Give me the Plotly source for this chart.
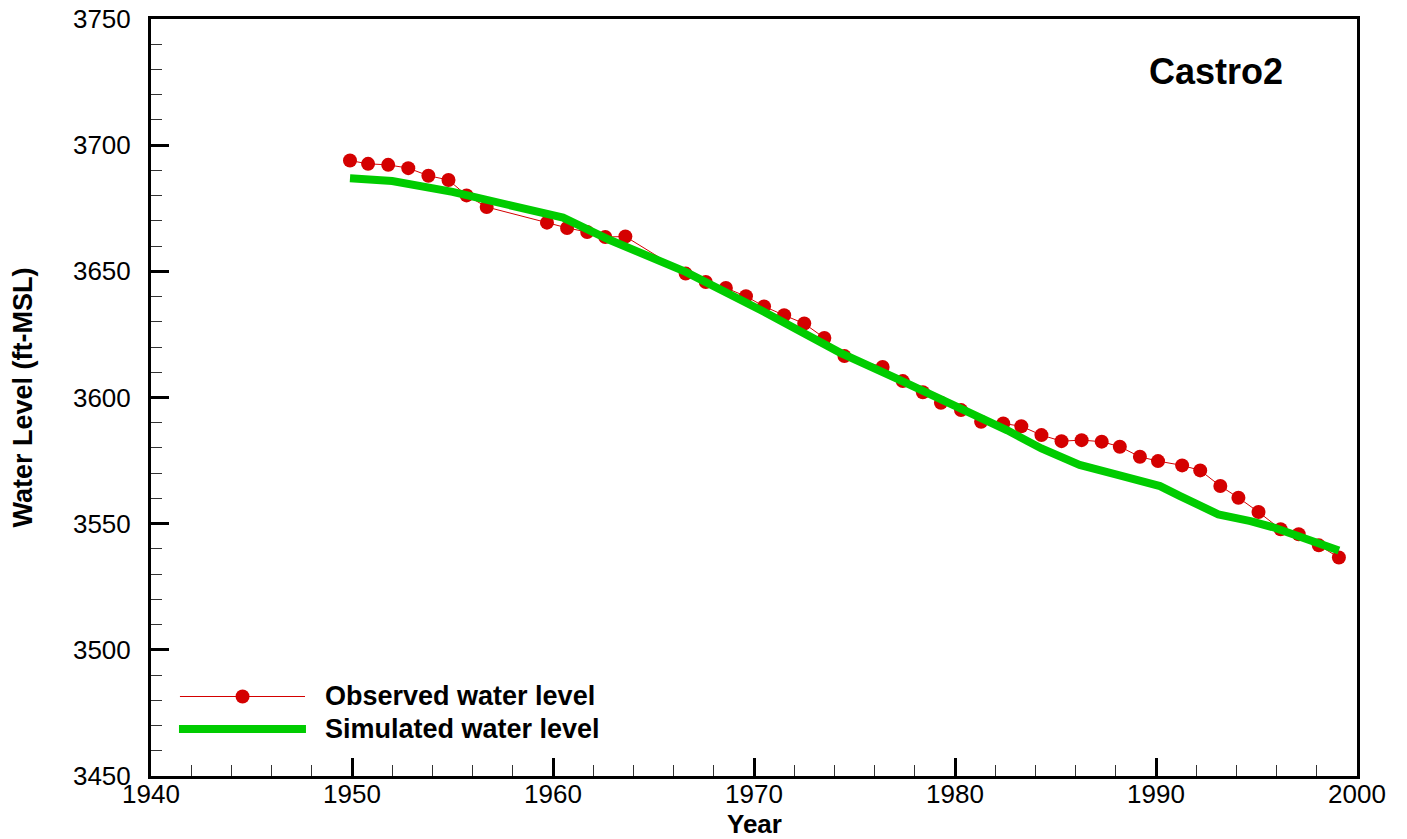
import plotly.graph_objects as go

# ---- data ----
obs_year = [1949.9, 1950.8, 1951.8, 1952.8, 1953.8, 1954.8, 1955.7, 1956.7, 1959.7, 1960.7,
            1961.7, 1962.6, 1963.6, 1966.6, 1967.6, 1968.6, 1969.6, 1970.5, 1971.5, 1972.5,
            1973.5, 1974.5, 1976.4, 1977.4, 1978.4, 1979.3, 1980.3, 1981.3, 1982.4, 1983.3,
            1984.3, 1985.3, 1986.3, 1987.3, 1988.2, 1989.2, 1990.1, 1991.3, 1992.2, 1993.2,
            1994.1, 1995.1, 1996.2, 1997.1, 1998.1, 1999.1]
obs_level = [3693.9, 3692.6, 3692.2, 3690.9, 3687.9, 3686.2, 3680.1, 3675.5, 3669.3, 3667.2,
             3665.6, 3663.6, 3663.8, 3649.1, 3645.8, 3643.4, 3640.1, 3636.1, 3632.6, 3629.3,
             3623.6, 3616.4, 3612.1, 3606.5, 3602.1, 3597.9, 3595.0, 3590.4, 3589.7, 3588.6,
             3585.1, 3582.7, 3583.1, 3582.5, 3580.5, 3576.5, 3574.8, 3573.1, 3571.1, 3564.9,
             3560.3, 3554.6, 3547.8, 3545.8, 3541.4, 3536.6]

sim_year = [1949.9, 1952.0, 1955.0, 1958.0, 1960.5, 1962.8, 1964.8, 1966.6, 1970.3, 1974.3,
            1977.0, 1980.3, 1982.6, 1984.3, 1986.2, 1988.0, 1990.2, 1991.2, 1993.1, 1994.7,
            1995.9, 1999.1]
sim_level = [3686.9, 3685.8, 3681.5, 3676.0, 3671.3, 3662.5, 3655.7, 3649.8, 3634.8, 3617.7,
             3607.9, 3596.0, 3587.0, 3579.8, 3573.3, 3569.5, 3564.9, 3560.9, 3553.7, 3551.0,
             3548.4, 3539.4]

x_ticks = [1940, 1950, 1960, 1970, 1980, 1990, 2000]
y_ticks = [3450, 3500, 3550, 3600, 3650, 3700, 3750]

title_text = "Castro2"
x_title = "Year"
y_title = "Water Level (ft-MSL)"
obs_name = "Observed water level"
sim_name = "Simulated water level"

RED = "#d40000"
GREEN = "#00cc00"
FONT = "Liberation Sans, Arial, sans-serif"

fig = go.Figure()
fig.add_trace(go.Scatter(x=obs_year, y=obs_level, mode="lines+markers", name=obs_name,
                         line=dict(color=RED, width=1),
                         marker=dict(color=RED, size=14, line=dict(width=0)),
                         showlegend=False))
fig.add_trace(go.Scatter(x=sim_year, y=sim_level, mode="lines", name=sim_name,
                         line=dict(color=GREEN, width=8), showlegend=False))

axis_common = dict(
    showline=True, linecolor="black", linewidth=3, mirror=True,
    ticks="inside", ticklen=18, tickwidth=2.5, tickcolor="black",
    showgrid=False, zeroline=False, automargin=False,
    tickfont=dict(family=FONT, size=26, color="black"),
)

fig.update_xaxes(range=[1940, 2000], tickvals=x_ticks,
                 minor=dict(dtick=2, tick0=1940, ticks="inside", ticklen=11, tickwidth=1,
                            tickcolor="#333", showgrid=False),
                 ticklabelstandoff=-7,
                 **axis_common)
fig.update_yaxes(range=[3450, 3750], tickvals=y_ticks,
                 minor=dict(dtick=10, tick0=3450, ticks="inside", ticklen=11, tickwidth=1,
                            tickcolor="#333", showgrid=False),
                 title=dict(text="<b>" + y_title + "</b>",
                            font=dict(family=FONT, size=27, color="black"), standoff=33),
                 ticklabelstandoff=12,
                 **axis_common)

# manual legend (long sample lines as in the reference)
shapes = [
    dict(type="line", xref="paper", yref="paper", x0=0.0240, x1=0.1277, y0=0.1050, y1=0.1050,
         line=dict(color=RED, width=1)),
    dict(type="circle", xref="paper", yref="paper", xsizemode="pixel", ysizemode="pixel",
         xanchor=0.0759, yanchor=0.1050, x0=-7, x1=7, y0=-7, y1=7,
         fillcolor=RED, line=dict(color=RED, width=0)),
    dict(type="line", xref="paper", yref="paper", x0=0.0232, x1=0.1285, y0=0.0621, y1=0.0621,
         line=dict(color=GREEN, width=8)),
]
annotations = [
    dict(text="<b>" + obs_name + "</b>", xref="paper", yref="paper", x=0.1430, y=0.1057,
         xanchor="left", yanchor="middle", showarrow=False,
         font=dict(family=FONT, size=27, color="black")),
    dict(text="<b>" + sim_name + "</b>", xref="paper", yref="paper", x=0.1430, y=0.0621,
         xanchor="left", yanchor="middle", showarrow=False,
         font=dict(family=FONT, size=27, color="black")),
    dict(text="<b>" + title_text + "</b>", xref="paper", yref="paper", x=0.8831, y=0.9313,
         xanchor="center", yanchor="middle", showarrow=False,
         font=dict(family=FONT, size=36, color="black")),
    dict(text="<b>" + x_title + "</b>", xref="paper", yref="paper", x=0.5, y=-0.0640,
         xanchor="center", yanchor="middle", showarrow=False,
         font=dict(family=FONT, size=26, color="black")),
]

fig.update_layout(
    width=1407, height=839,
    margin=dict(l=151, r=50, t=19, b=63),
    paper_bgcolor="white", plot_bgcolor="white",
    shapes=shapes, annotations=annotations,
    font=dict(family=FONT, color="black"),
)

fig.write_html("out.html", config={"displayModeBar": False},
               post_script="document.body.style.margin='0';")
